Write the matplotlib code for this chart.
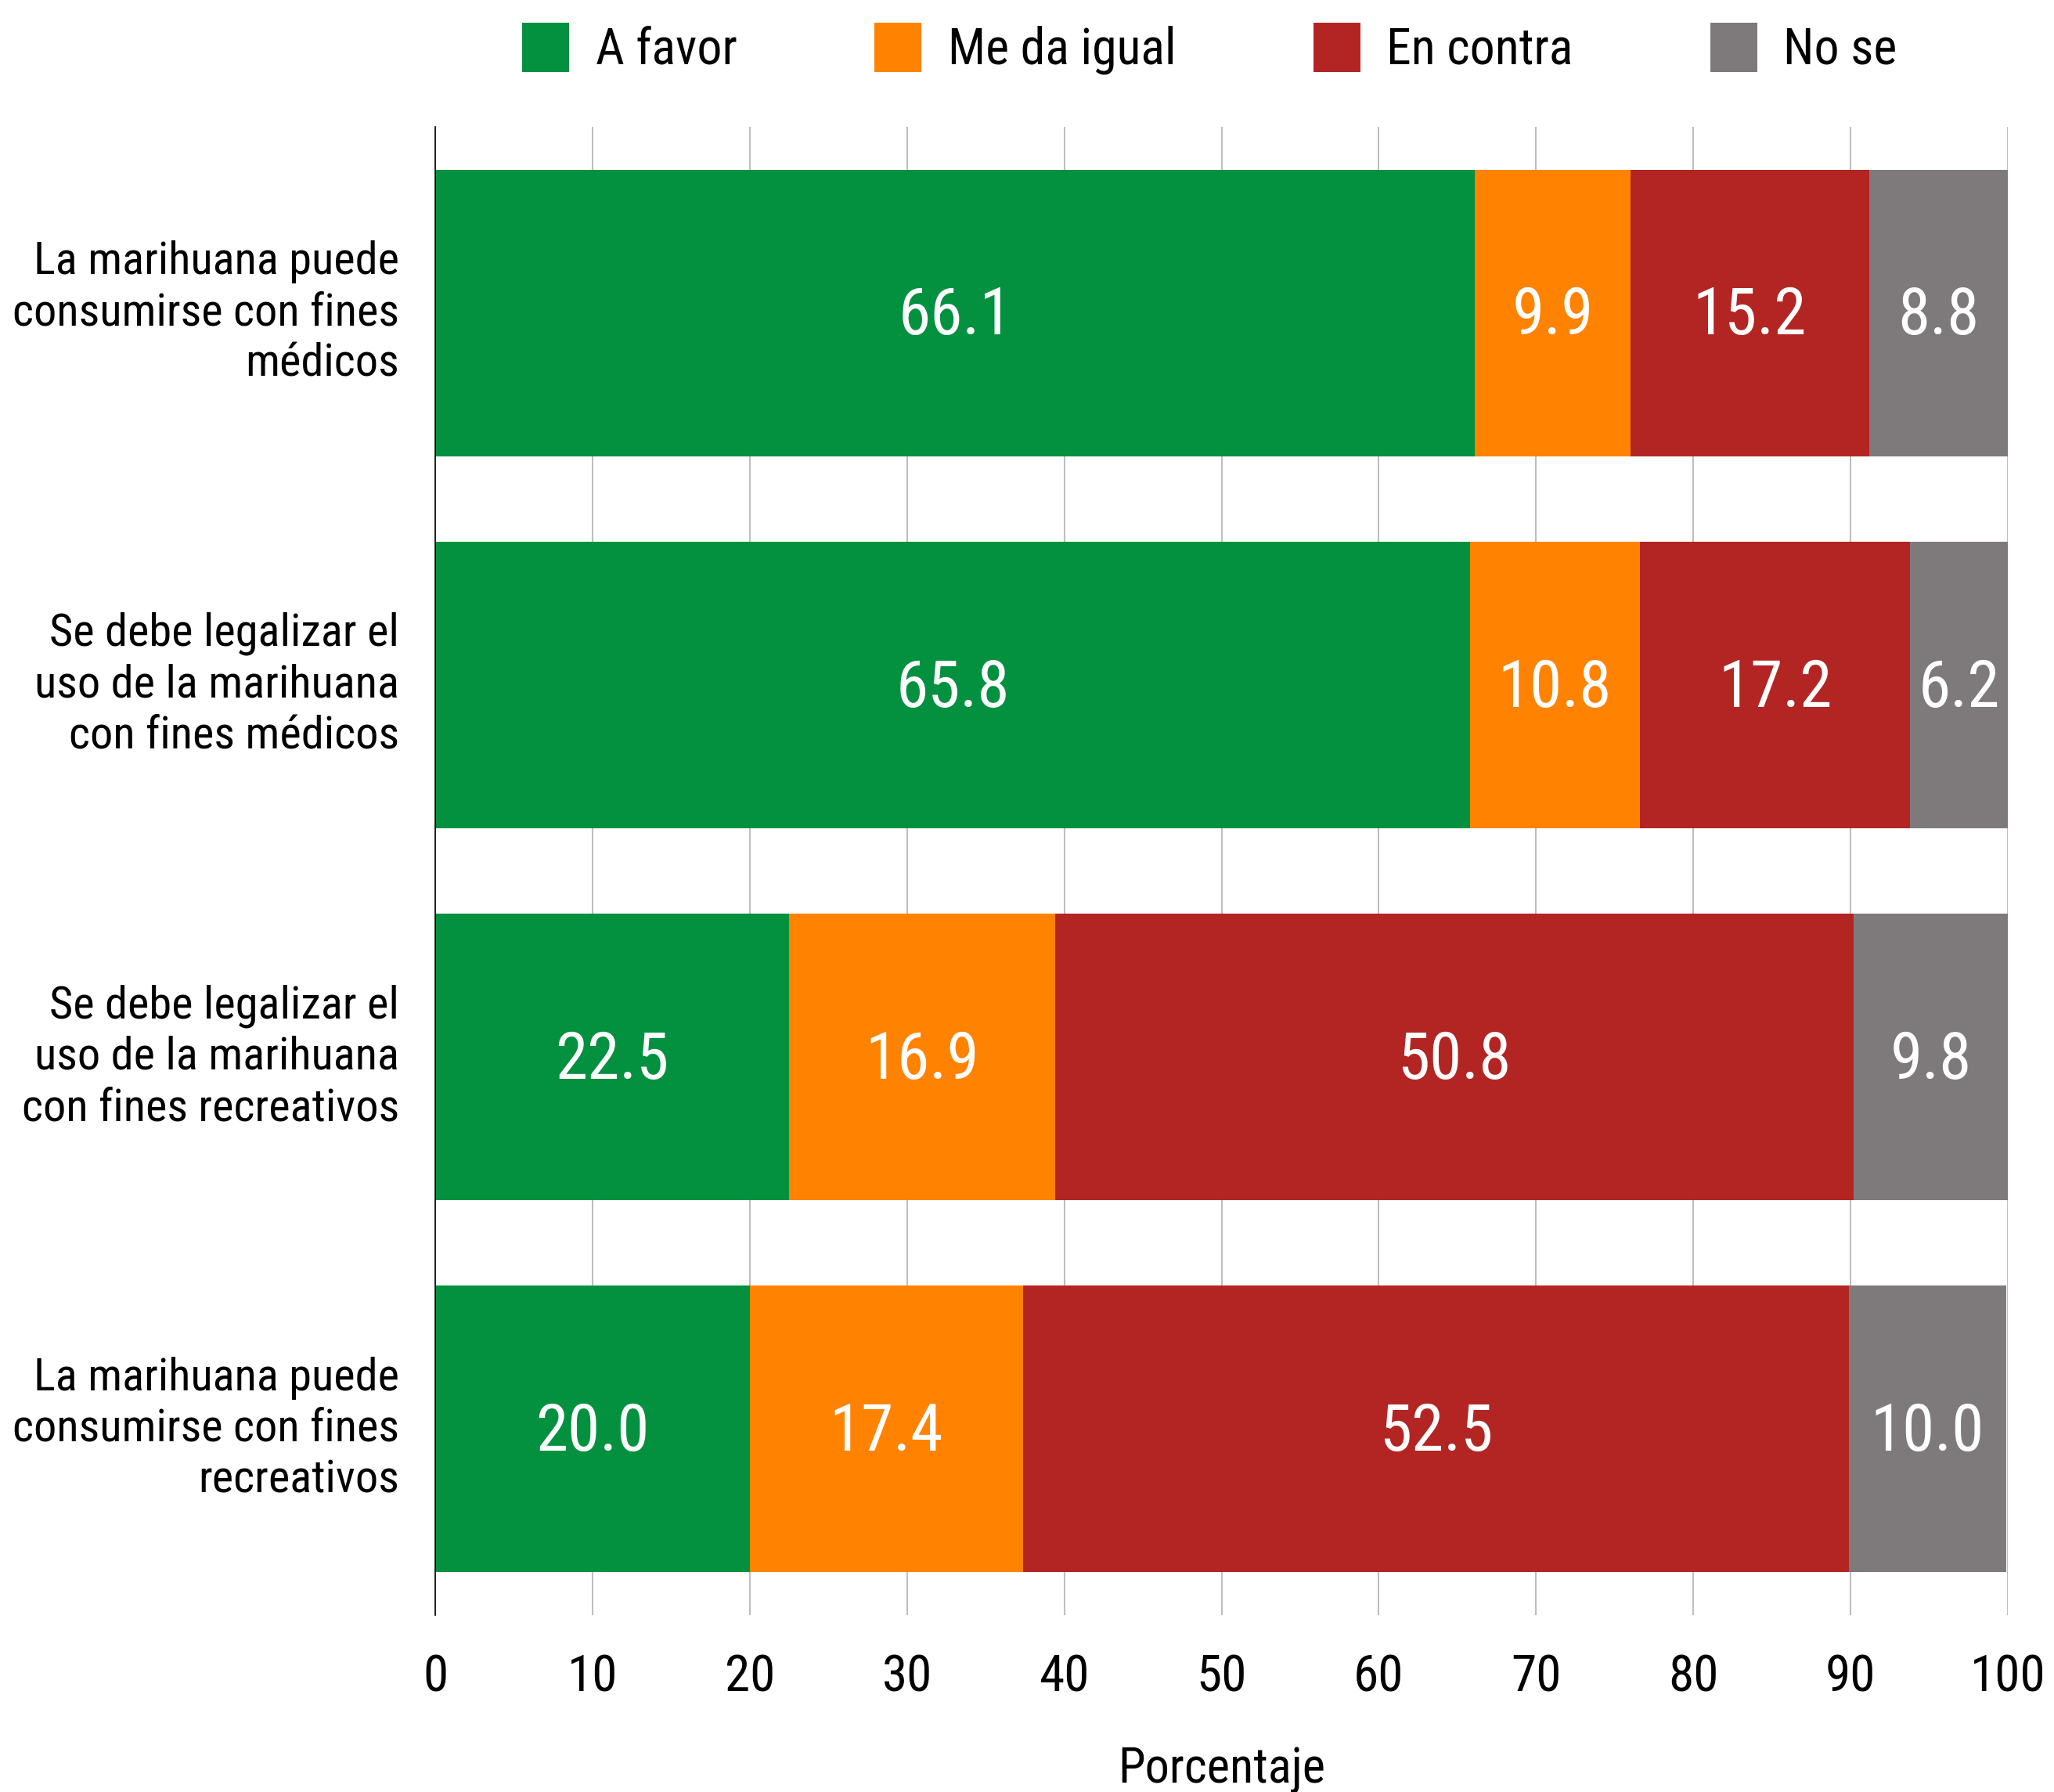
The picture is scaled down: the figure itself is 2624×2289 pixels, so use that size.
import matplotlib
matplotlib.use("Agg")
import matplotlib.pyplot as plt
from matplotlib import font_manager
from matplotlib.patches import Patch
import numpy as np

categories = [
    "La marihuana puede\nconsumirse con fines\nmédicos",
    "Se debe legalizar el\nuso de la marihuana\ncon fines médicos",
    "Se debe legalizar el\nuso de la marihuana\ncon fines recreativos",
    "La marihuana puede\nconsumirse con fines\nrecreativos",
]
series_names = ["A favor", "Me da igual", "En contra", "No se"]
a_favor = [66.1, 65.8, 22.5, 20.0]
me_da_igual = [9.9, 10.8, 16.9, 17.4]
en_contra = [15.2, 17.2, 50.8, 52.5]
no_se = [8.8, 6.2, 9.8, 10.0]
colors = ["#03913F", "#FF8300", "#B32523", "#7E7A7B"]
xticks = [0, 10, 20, 30, 40, 50, 60, 70, 80, 90, 100]

available = {f.name for f in font_manager.fontManager.ttflist}
family = "Roboto"
condensed = False
for cand in ["Roboto Condensed", "Liberation Sans Narrow", "Roboto"]:
    if cand in available:
        family = cand
        condensed = cand != "Roboto"
        break
plt.rcParams["font.family"] = [family, "DejaVu Sans"]
scale = 1.0 if condensed else 0.82

W, H = 2624, 2289
fig = plt.figure(figsize=(W / 100, H / 100), dpi=100)
ax = fig.add_axes([556 / W, 1 - 2063 / H, (2565 - 556) / W, (2063 - 162) / H])

data = [a_favor, me_da_igual, en_contra, no_se]
y = np.arange(len(categories))
left = np.zeros(len(categories))
for vals, name, c in zip(data, series_names, colors):
    vals = np.array(vals)
    bars = ax.barh(y, vals, left=left, height=0.77, color=c, label=name, zorder=2)
    texts = ax.bar_label(bars, labels=[f"{v:.1f}" for v in vals], label_type="center",
                         color="white", fontsize=60 * scale)
    for t in texts:
        t.xyann = (0, -3.5)
    left = left + vals

ax.set_ylim(3.5, -0.5)
ax.set_xlim(0, 100)
ax.set_xticks(xticks)
ax.set_yticks(y)
ax.set_yticklabels(categories, fontsize=42 * scale, linespacing=1.24, va="center")
ax.tick_params(axis="x", length=0, pad=35, labelsize=47 * scale)
ax.tick_params(axis="y", length=0, pad=33)
ax.grid(axis="x", color="#BEBEBE", linewidth=1.5, zorder=0)
ax.set_axisbelow(True)
for s in ["top", "right", "bottom"]:
    ax.spines[s].set_visible(False)
ax.spines["left"].set_color("black")
ax.spines["left"].set_linewidth(1.2)
ax.set_xlabel("Porcentaje", fontsize=45 * scale, labelpad=41)

handles = [Patch(facecolor=c, edgecolor="none") for c in colors]
fig.legend(handles, series_names, loc="center", bbox_to_anchor=(0.589, 1 - 62 / H),
           ncol=4, frameon=False, fontsize=46 * scale, handlelength=0.94, handleheight=1.15,
           handletextpad=0.52, columnspacing=2.75)

fig.savefig("out.png", dpi=100, facecolor="white")
